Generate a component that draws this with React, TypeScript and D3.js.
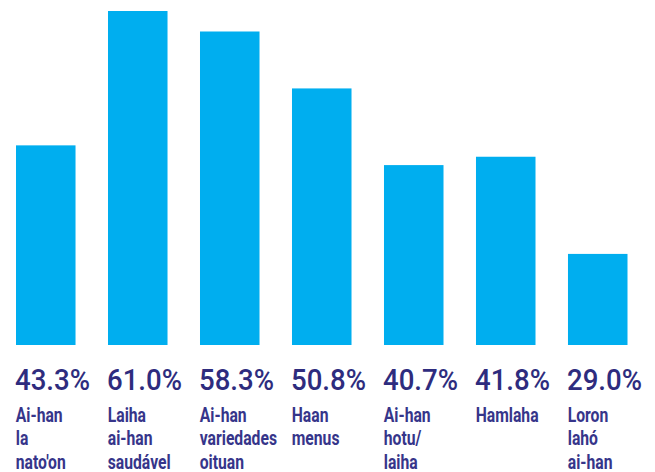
import React, { useEffect } from 'react';
import * as d3 from 'd3';

const categories = ['c1', 'c2', 'c3', 'c4', 'c5', 'c6', 'c7'];
const values = [43.3, 61.0, 58.3, 50.8, 40.7, 41.8, 29.0];
const labels = [
  ['Ai-han', 'la', "nato'on"],
  ['Laiha', 'ai-han', 'saudável'],
  ['Ai-han', 'variedades', 'oituan'],
  ['Haan', 'menus'],
  ['Ai-han', 'hotu/', 'laiha'],
  ['Hamlaha'],
  ['Loron', 'lahó', 'ai-han'],
];

const width = 655;
const height = 472;
const barColor = '#00aeef';
const valueColor = '#2e2c7e';
const labelColor = '#36358a';

const App: React.FC = () => {
  useEffect(() => {
    document.body.style.margin = '0';
  }, []);

  const x = d3.scaleBand<string>()
    .domain(categories)
    .range([16, 627.5])
    .paddingInner(0.353)
    .paddingOuter(0);

  // infographic bars are not zero based
  const y = d3.scaleLinear()
    .domain([17, 61])
    .range([345, 11]);

  const fmt = d3.format('.1f');

  return (
    <svg width={width} height={height} style={{ display: 'block' }}>
      <g>
        {categories.map((c, i) => (
          <rect
            key={c}
            x={x(c)}
            y={y(values[i])}
            width={x.bandwidth()}
            height={y(17) - y(values[i])}
            fill={barColor}
          />
        ))}
      </g>
      <g fontFamily="Roboto, sans-serif">
        {categories.map((c, i) => (
          <g key={c} transform={`translate(${(x(c) as number) - 1},0)`}>
            <text
              y={390}
              fontSize={30}
              fontWeight={500}
              fill={valueColor}
              transform="scale(0.92,1)"
            >
              {fmt(values[i])}%
            </text>
            {labels[i].map((line, j) => (
              <text
                key={j}
                x={1}
                y={422 + j * 23.3}
                fontSize={20.4}
                fontWeight={700}
                fill={labelColor}
                transform="scale(0.77,1)"
              >
                {line}
              </text>
            ))}
          </g>
        ))}
      </g>
    </svg>
  );
};

export default App;
